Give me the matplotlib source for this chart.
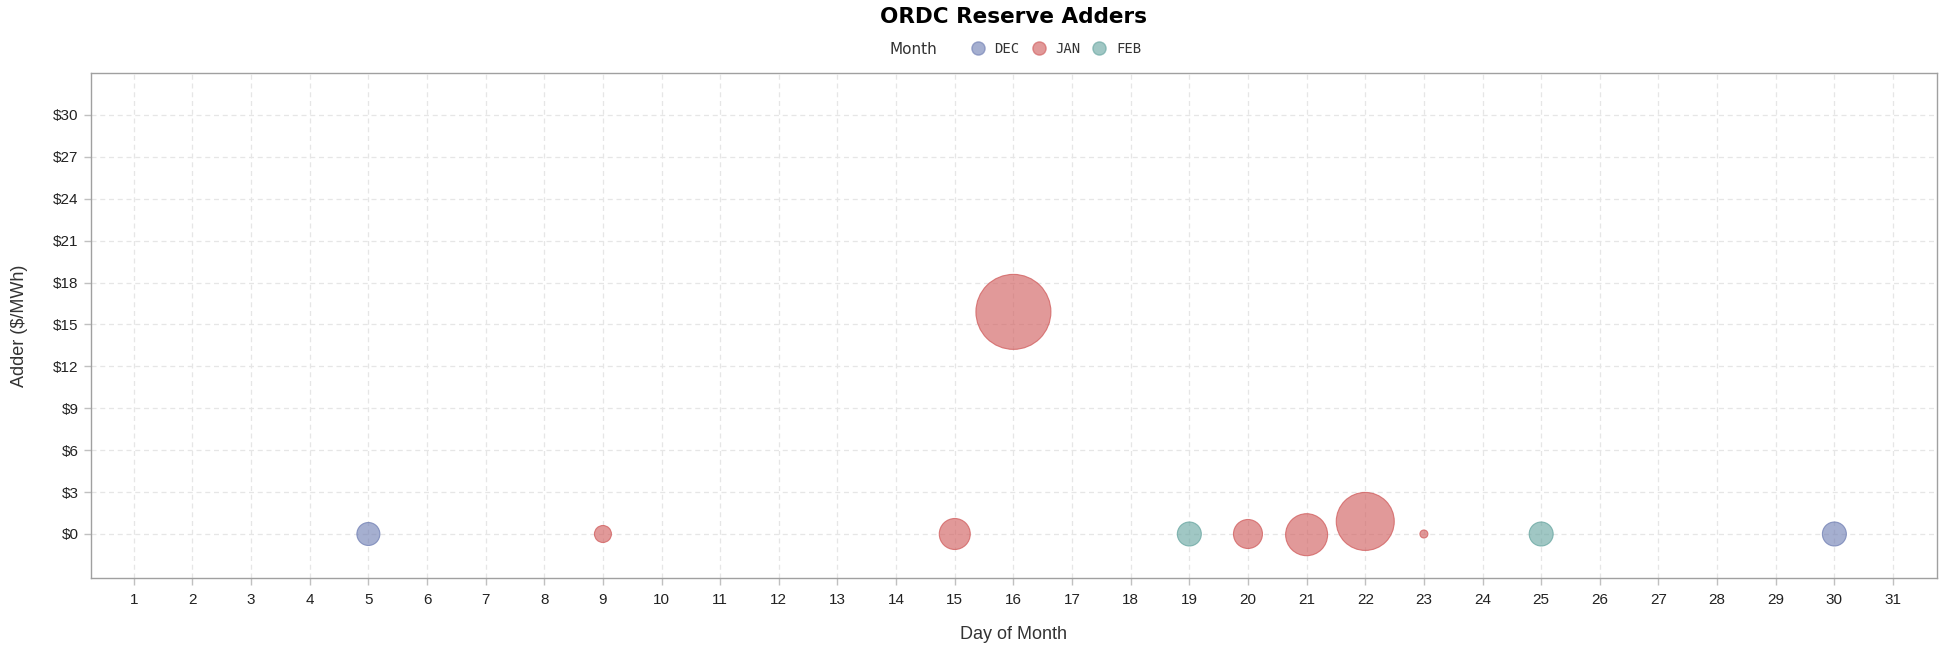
import matplotlib
matplotlib.use('Agg')
import matplotlib.pyplot as plt
from matplotlib.lines import Line2D
import numpy as np

# months and their colours (SAS HTMLBlue style)
months = ['DEC', 'JAN', 'FEB']
month_colors = {'DEC': '#6F7EB3', 'JAN': '#D05B5B', 'FEB': '#66A5A0'}

# bubble data
day = [5, 30, 9, 15, 16, 20, 21, 22, 23, 19, 25]
month = ['DEC', 'DEC', 'JAN', 'JAN', 'JAN', 'JAN', 'JAN', 'JAN', 'JAN', 'FEB', 'FEB']
adder = [0, 0, 0, 0, 15.9, 0, -0.05, 0.9, 0, 0, 0]
size_var = [23, 24, 17, 31, 75, 29, 42, 58, 8, 24, 24]

day_ticks = list(range(1, 32))
adder_ticks = list(range(0, 31, 3))
adder_labels = ['${}'.format(v) for v in adder_ticks]

fig = plt.figure(figsize=(19.42, 6.49), dpi=100)
ax = fig.add_axes([91 / 1942, 1 - 578 / 649, 1846 / 1942, 505 / 649])

# bubble diameter in px mapped linearly from the size variable
sv = np.array(size_var, dtype=float)
diam_px = 8 + (sv - sv.min()) / (sv.max() - sv.min()) * (75 - 8)
s_pts = (diam_px * 0.72) ** 2

for m in months:
    idx = [i for i, mm in enumerate(month) if mm == m]
    ax.scatter([day[i] for i in idx], [adder[i] for i in idx], s=s_pts[idx],
               facecolor=month_colors[m], alpha=0.62, edgecolor='none',
               zorder=3)
    # thin darker outline
    ax.scatter([day[i] for i in idx], [adder[i] for i in idx], s=s_pts[idx],
               facecolor='none', edgecolor=month_colors[m], alpha=0.75,
               linewidth=0.8, zorder=4)

ax.set_xlim(0.27, 31.75)
ax.set_ylim(-3.15, 33.0)
ax.set_xticks(day_ticks)
ax.set_yticks(adder_ticks)
ax.set_yticklabels(adder_labels)

ax.grid(True, linestyle=(0, (4, 3)), color='#e6e6e6', linewidth=0.9, zorder=0)
ax.set_axisbelow(True)

for sp in ax.spines.values():
    sp.set_color('#a0a0a0')
    sp.set_linewidth(1.0)

ax.tick_params(axis='both', direction='out', length=5, width=1, color='#c0c0c0',
               labelcolor='#222222', labelsize=11)
ax.tick_params(axis='x', pad=6)
ax.tick_params(axis='y', pad=4)
for lab in ax.get_xticklabels() + ax.get_yticklabels():
    lab.set_fontfamily('Liberation Sans')

ax.set_xlabel('Day of Month', fontsize=13, family='Liberation Sans', color='#333333', va='center')
ax.set_ylabel('Adder ($/MWh)', fontsize=13, family='Liberation Sans', color='#333333', va='center')
ax.xaxis.set_label_coords(0.5, -0.111)
ax.yaxis.set_label_coords(-0.0385, 0.5)

fig.text(ax.get_position().x0 + ax.get_position().width / 2, 1 - 17 / 649, 'ORDC Reserve Adders',
         ha='center', va='center', fontsize=15.5, fontweight='bold', family='DejaVu Sans')

# legend: "Month" label on the left, entries in one row
fig.text(937 / 1942, 1 - 49 / 649, 'Month', ha='right', va='center', fontsize=11,
         family='DejaVu Sans', color='#333333')
handles = [Line2D([0], [0], marker='o', linestyle='none', markersize=9.5,
                  markerfacecolor=month_colors[m], markeredgecolor=month_colors[m],
                  alpha=0.62) for m in months]
leg = fig.legend(handles, months, loc='center left', bbox_to_anchor=(971 / 1942, 1 - 49 / 649),
                 ncol=3, frameon=False, handlelength=1.0, handletextpad=0.7,
                 columnspacing=0.86, borderpad=0, borderaxespad=0,
                 prop={'family': 'DejaVu Sans Mono', 'size': 10})
for t in leg.get_texts():
    t.set_color('#333333')

fig.savefig('out.png', dpi=100)
